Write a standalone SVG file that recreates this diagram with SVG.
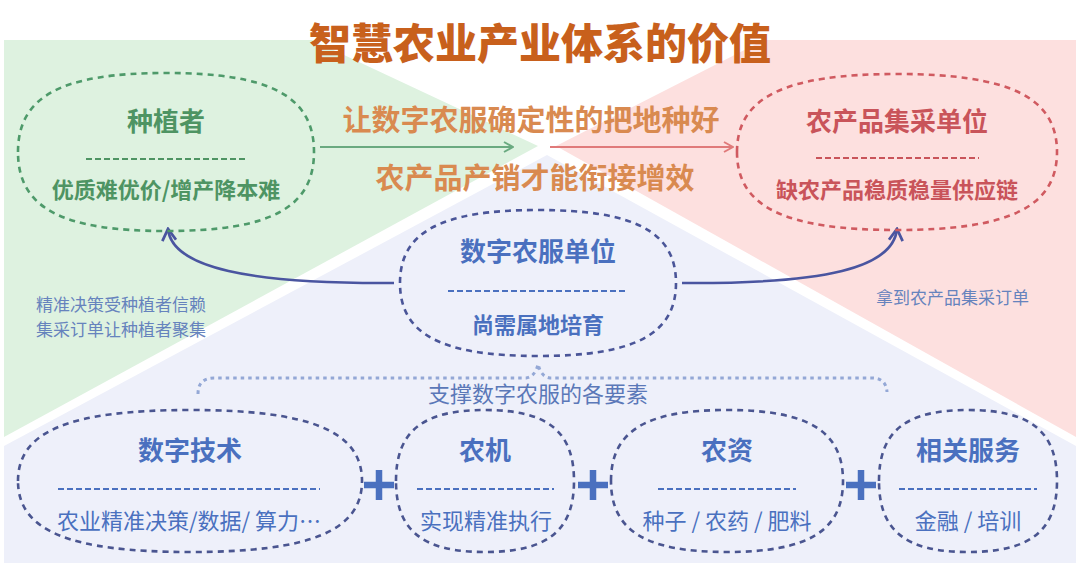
<svg xmlns="http://www.w3.org/2000/svg" width="1080" height="572" viewBox="0 0 1080 572">
<defs>
<style>
text{font-family:"Noto Sans CJK SC","Noto Sans",sans-serif;text-anchor:middle}
.ttl{font-size:42px;font-weight:900;fill:#c8601c}
.mid{font-size:29px;font-weight:700;fill:#d98a50}
.gT{font-size:26px;font-weight:700;fill:#4e9463}
.gS{font-size:22px;font-weight:700;fill:#4e9463}
.pT{font-size:26px;font-weight:700;fill:#c9545a}
.pS{font-size:22px;font-weight:700;fill:#c9545a}
.bT{font-size:26px;font-weight:700;fill:#4a70bf}
.bS{font-size:22px;font-weight:700;fill:#4a70bf}
.bR{font-size:22px;font-weight:400;fill:#4a70bf}
.note{font-size:17px;font-weight:400;fill:#6683bd;text-anchor:start}
.shape{fill:none;stroke-width:2.6;stroke-dasharray:6 5}
.sep{stroke-width:2;stroke-dasharray:6 3}
.plus{stroke:#4a70bf;stroke-width:6.5;fill:none}
</style>
<marker id="ahG" viewBox="0 0 12 12" refX="11" refY="6" markerWidth="12" markerHeight="12" markerUnits="userSpaceOnUse" orient="auto"><path d="M2,1 L11,6 L2,11" fill="none" stroke="#6aaa80" stroke-width="2"/></marker>
<marker id="ahP" viewBox="0 0 12 12" refX="11" refY="6" markerWidth="12" markerHeight="12" markerUnits="userSpaceOnUse" orient="auto"><path d="M2,1 L11,6 L2,11" fill="none" stroke="#e07a7a" stroke-width="2"/></marker>
<marker id="ahB" viewBox="0 0 14 14" refX="12" refY="7" markerWidth="16" markerHeight="16" markerUnits="userSpaceOnUse" orient="auto"><path d="M2,1 L12,7 L2,13" fill="none" stroke="#4a55a0" stroke-width="2.4"/></marker>
</defs>

<g id="background">
<polygon points="4,40 312,40 538,146 4,437" fill="#def2e0"/>
<polygon points="764,40 1076,40 1076,437 556,146" fill="#fde0df"/>
<polygon points="4,563 4,446 547,155 1076,446 1076,563" fill="#eef0fa"/>
</g>

<text class="ttl" x="540" y="59">智慧农业产业体系的价值</text>

<g id="connectors">
<line x1="320" y1="147" x2="513" y2="147" stroke="#6aaa80" stroke-width="2.2" marker-end="url(#ahG)"/>
<line x1="550" y1="147" x2="733" y2="147" stroke="#e07a7a" stroke-width="2.2" marker-end="url(#ahP)"/>
<path d="M394,283 C250,284 172,268 168,229" fill="none" stroke="#4a55a0" stroke-width="2.6" marker-end="url(#ahB)"/>
<path d="M682,283 C826,284 893,268 897,229" fill="none" stroke="#4a55a0" stroke-width="2.6" marker-end="url(#ahB)"/>
<path d="M198,394 Q198,378 214,378 L526,378 Q535,377 538,364 Q541,377 550,378 L872,378 Q886,378 887,392" fill="none" stroke="#94a8d6" stroke-width="3" stroke-dasharray="3.5 4"/>
<path class="plus" d="M364,485 H394 M379,470 V500"/>
<path class="plus" d="M578,485 H608 M593,470 V500"/>
<path class="plus" d="M846,485 H876 M861,470 V500"/>
</g>

<text class="mid" x="531" y="131">让数字农服确定性的把地种好</text>
<text class="mid" x="535" y="189">农产品产销才能衔接增效</text>

<g id="node-grower">
<path class="shape" stroke="#4e9a6a" d="M18,152 C18,96 62,73 166,73 C270,73 314,96 314,152 C314,208 270,231 166,231 C62,231 18,208 18,152 Z"/>
<text class="gT" x="166" y="131">种植者</text>
<line class="sep" x1="86" y1="159" x2="247" y2="159" stroke="#4e9463"/>
<text class="gS" x="166" y="198">优质难优价/增产降本难</text>
</g>

<g id="node-buyer">
<path class="shape" stroke="#d05a60" d="M737,152 C737,97 785,74 897,74 C1009,74 1057,97 1057,152 C1057,207 1009,230 897,230 C785,230 737,207 737,152 Z"/>
<text class="pT" x="897" y="131">农产品集采单位</text>
<line class="sep" x1="816" y1="158" x2="979" y2="158" stroke="#c9545a"/>
<text class="pS" x="897" y="198">缺农产品稳质稳量供应链</text>
</g>

<g id="node-service">
<path class="shape" stroke="#4a5598" d="M400,283 C400,232 441,210 538,210 C635,210 676,232 676,283 C676,334 635,356 538,356 C441,356 400,334 400,283 Z"/>
<text class="bT" x="538" y="261">数字农服单位</text>
<line class="sep" x1="448" y1="291" x2="627" y2="291" stroke="#4a70bf"/>
<text class="bS" x="538" y="333">尚需属地培育</text>
</g>

<text class="note" x="36" y="311">精准决策受种植者信赖</text>
<text class="note" x="36" y="336">集采订单让种植者聚集</text>
<text class="note" x="876" y="304">拿到农产品集采订单</text>
<text class="bR" x="538" y="402" style="fill:#5b78b8">支撑数字农服的各要素</text>

<g id="node-tech">
<path class="shape" stroke="#4a5590" d="M18,481 C18,431 70,410 190,410 C310,410 362,431 362,481 C362,531 310,552 190,552 C70,552 18,531 18,481 Z"/>
<text class="bT" x="190" y="460">数字技术</text>
<line class="sep" x1="58" y1="489" x2="320" y2="489" stroke="#4a70bf"/>
<text class="bR" x="189" y="529">农业精准决策/数据/ 算力…</text>
</g>

<g id="node-machine">
<path class="shape" stroke="#4a5590" d="M396,481 C396,431 423,410 485,410 C547,410 574,431 574,481 C574,531 547,552 485,552 C423,552 396,531 396,481 Z"/>
<text class="bT" x="485" y="460">农机</text>
<line class="sep" x1="417" y1="489" x2="554" y2="489" stroke="#4a70bf"/>
<text class="bR" x="486" y="529">实现精准执行</text>
</g>

<g id="node-inputs">
<path class="shape" stroke="#4a5590" d="M611,481 C611,431 646,410 727,410 C808,410 843,431 843,481 C843,531 808,552 727,552 C646,552 611,531 611,481 Z"/>
<text class="bT" x="727" y="460">农资</text>
<line class="sep" x1="658" y1="489" x2="796" y2="489" stroke="#4a70bf"/>
<text class="bR" x="727" y="529">种子 / 农药 / 肥料</text>
</g>

<g id="node-related">
<path class="shape" stroke="#4a5590" d="M879,481 C879,431 906,410 968,410 C1030,410 1057,431 1057,481 C1057,531 1030,552 968,552 C906,552 879,531 879,481 Z"/>
<text class="bT" x="968" y="460">相关服务</text>
<line class="sep" x1="899" y1="489" x2="1037" y2="489" stroke="#4a70bf"/>
<text class="bR" x="968" y="529">金融 / 培训</text>
</g>
</svg>
